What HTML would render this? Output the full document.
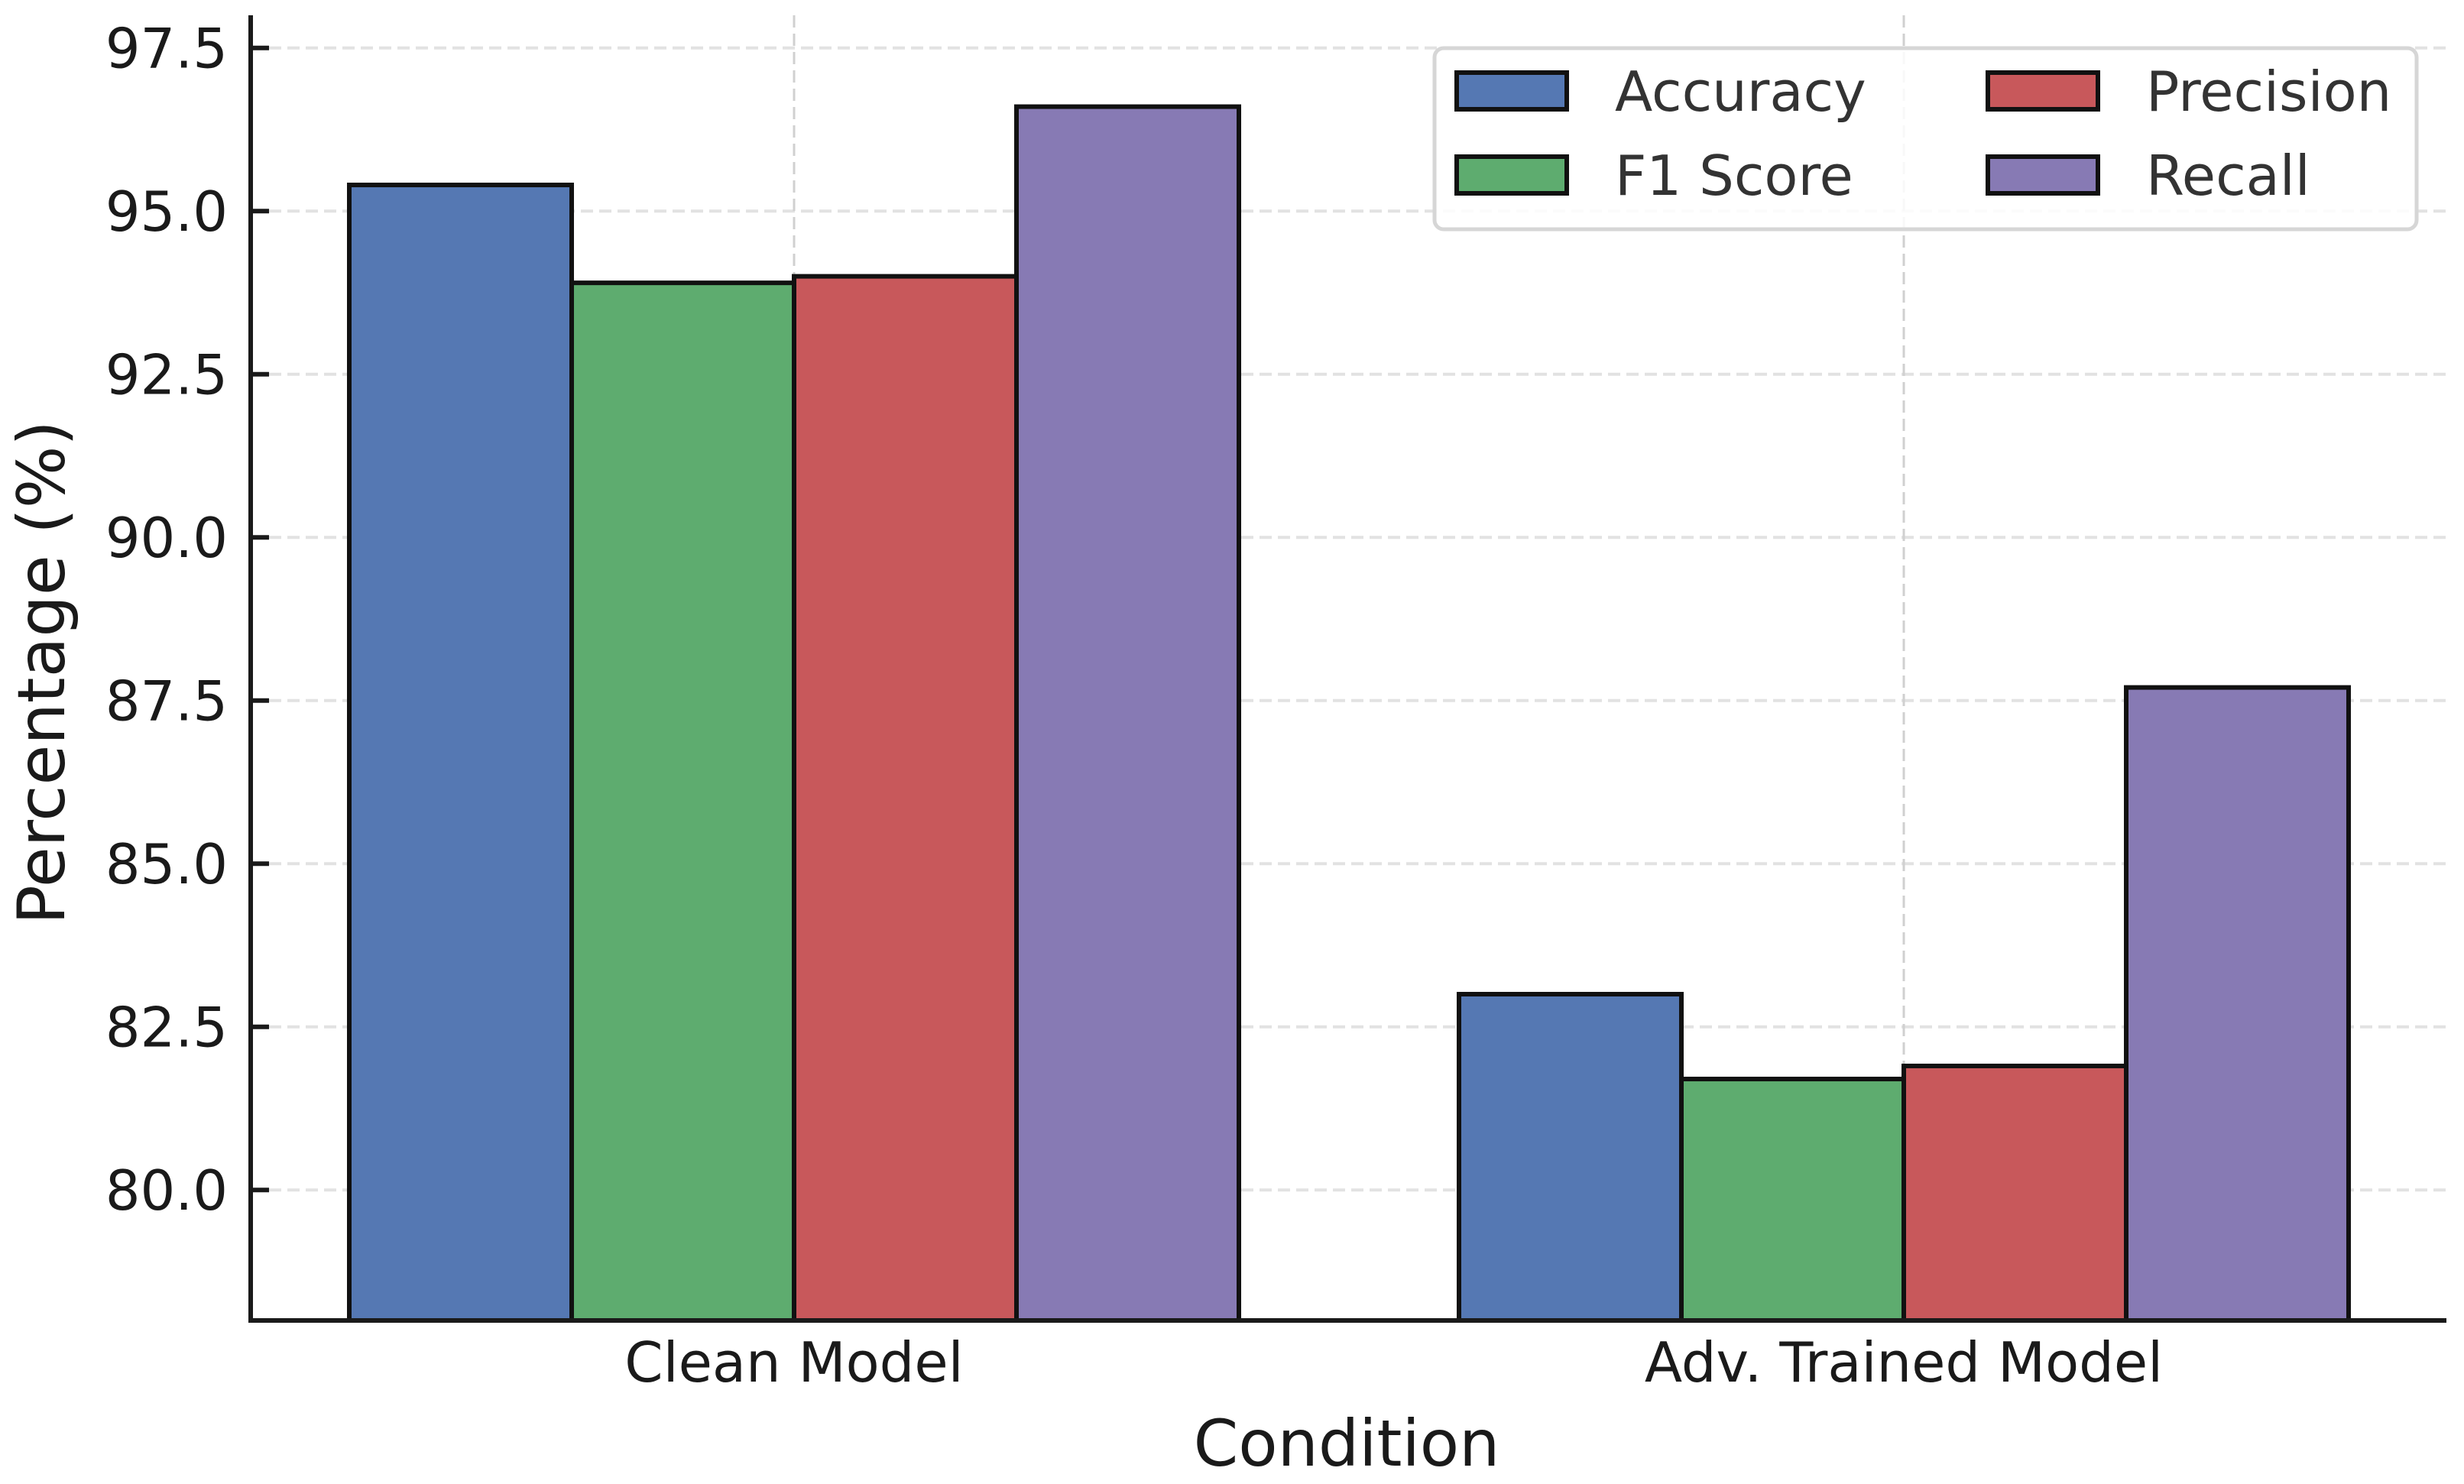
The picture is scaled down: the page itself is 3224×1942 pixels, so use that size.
<!DOCTYPE html>
<html><head><meta charset="utf-8"><style>
html,body{margin:0;padding:0;background:#fff}
svg{display:block;font-family:"DejaVu Sans","Liberation Sans",sans-serif}
</style></head><body>
<svg id="chart" width="3224" height="1942" viewBox="0 0 3224 1942" xmlns="http://www.w3.org/2000/svg">
<g id="grid"></g>
<g id="bars"></g>
<g id="axes"></g>
<text x="1762" y="1918" font-size="84" text-anchor="middle" fill="#1a1a1a">Condition</text>
<text transform="translate(84,880) rotate(-90)" font-size="86" text-anchor="middle" fill="#1a1a1a">Percentage (%)</text>
<g id="legend"></g>
</svg>
<script>
const categories = ["Clean Model", "Adv. Trained Model"];
const seriesNames = ["Accuracy", "F1 Score", "Precision", "Recall"];
const accuracy = [95.4, 83.0];
const f1Score = [93.9, 81.7];
const precision = [94.0, 81.9];
const recall = [96.6, 87.7];
const yTicks = [80.0, 82.5, 85.0, 87.5, 90.0, 92.5, 95.0, 97.5];

const series = [accuracy, f1Score, precision, recall];
const colors = ["#5578B3", "#5EAC6F", "#C8585B", "#877AB4"];
const NS = "http://www.w3.org/2000/svg";
const plotL = 328, plotR = 3201, plotT = 20, plotB = 1728;
const yMin = 78.0, yMax = 98.0;
function y(v){ return plotB - (v - yMin) / (yMax - yMin) * (plotB - plotT); }
const groupStart = 1039, groupStep = 1452, barW = 291;
function xc(i){ return groupStart + i * groupStep; }
function mk(tag, attrs, parent){ const e = document.createElementNS(NS, tag); for (const k in attrs) e.setAttribute(k, attrs[k]); parent.appendChild(e); return e; }

const grid = document.getElementById('grid');
yTicks.forEach(t => {
  const l = mk('line', {x1: plotL, x2: plotR, y1: y(t), y2: y(t), stroke: '#e2e2e2', 'stroke-width': 4, 'stroke-dasharray': '16,8'}, grid);
  
  
});
categories.forEach((c, i) => {
  const l = mk('line', {x1: xc(i), x2: xc(i), y1: plotT, y2: plotB, stroke: '#d0d0d0', 'stroke-width': 3, 'stroke-dasharray': '16,8'}, grid);
  
  
});

const bars = document.getElementById('bars');
series.forEach((vals, s) => {
  vals.forEach((v, i) => {
    const x0 = xc(i) + (s - 2) * barW;
    const r = mk('rect', {x: x0, y: y(v), width: barW, height: plotB - y(v), fill: colors[s], stroke: '#111', 'stroke-width': 6}, bars);
    
    
  });
});

const axes = document.getElementById('axes');
const ls = mk('line', {x1: plotL, x2: plotL, y1: plotT, y2: plotB + 3, stroke: '#1a1a1a', 'stroke-width': 6}, axes);


const bs = mk('line', {x1: plotL - 3, x2: plotR, y1: plotB, y2: plotB, stroke: '#1a1a1a', 'stroke-width': 6}, axes);


yTicks.forEach(t => {
  const tk = mk('line', {x1: plotL, x2: plotL + 24, y1: y(t), y2: y(t), stroke: '#1a1a1a', 'stroke-width': 6}, axes);
  
  
  const tx = mk('text', {x: 298, y: y(t) + 26, 'font-size': 72, 'text-anchor': 'end', fill: '#1a1a1a'}, axes);
  tx.textContent = t.toFixed(1);
  
  
});
categories.forEach((c, i) => {
  const tx = mk('text', {x: xc(i), y: 1808, 'font-size': 72, 'text-anchor': 'middle', fill: '#1a1a1a'}, axes);
  tx.textContent = c;
  
  
});

const lg = document.getElementById('legend');
const box = mk('rect', {x: 1877, y: 63, width: 1285, height: 237, rx: 12, fill: '#fff', 'fill-opacity': 0.85, stroke: '#d6d6d6', 'stroke-width': 5}, lg);


const lx = [1906, 2601], ly = [119, 229];
seriesNames.forEach((n, s) => {
  const c2 = Math.floor(s / 2), r2 = s % 2;
  const p = mk('rect', {x: lx[c2], y: ly[r2] - 24, width: 144, height: 48, fill: colors[s], stroke: '#111', 'stroke-width': 6}, lg);
  
  
  const t = mk('text', {x: lx[c2] + 207, y: ly[r2] + 26, 'font-size': 72, fill: '#333'}, lg);
  t.textContent = n;
  
  
});
</script>
</body></html>
